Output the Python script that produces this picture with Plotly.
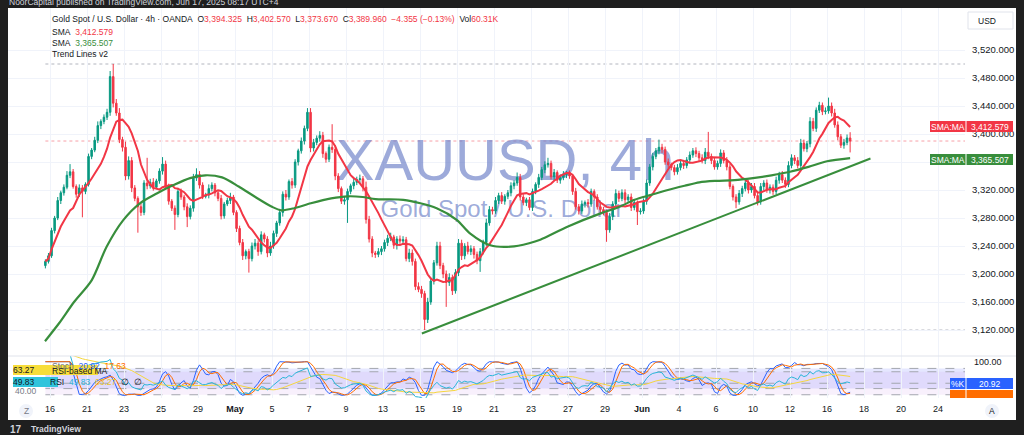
import numpy as np
import pandas as pd
import plotly.graph_objects as go

W, H = 1024, 435
FONT = "Liberation Sans, Arial, sans-serif"
TXT = "#131722"
UP = "#089981"
DOWN = "#f23645"
SMA_FAST_C = "#f23645"
SMA_SLOW_C = "#388e3c"
GRID = "#f0f3fa"
DARK = "#1f1f1f"

# ---------------- data ----------------
tick_day_index = [0, 2, 4, 6, 8, 10, 12, 14, 16, 18, 20, 22, 24, 26, 28, 30, 32, 34, 36, 38, 40, 42, 44, 46, 48]
tick_day_text = ["16", "21", "23", "25", "29", "<b>May</b>", "5", "7", "9", "13", "15", "19", "21", "23",
                 "27", "29", "<b>Jun</b>", "4", "6", "10", "12", "16", "18", "20", "24"]

price_ticks = [3120, 3160, 3200, 3240, 3280, 3320, 3360, 3400, 3440, 3480, 3520]
hidden_price_ticks = [3360]   # label fully covered by the SMA tag in the reference

bars_per_day = 6
first_bar_slot = -2          # first bar = Apr 15, 16:00 (slot counted from Apr 16 00:00)
first_open = 3212.0

closes = [
    3218, 3226,
    3262, 3280, 3305, 3316, 3324, 3341,
    3346, 3325, 3314, 3323, 3318, 3328,
    3368, 3377, 3391, 3412, 3418, 3424,
    3431, 3482, 3444, 3430, 3392, 3381,
    3340, 3362, 3323, 3308, 3296, 3288,
    3330, 3326, 3331, 3324, 3333, 3347,
    3357, 3325, 3304, 3294, 3285, 3318,
    3310, 3296, 3282, 3294, 3337, 3342,
    3327, 3311, 3313, 3322, 3327, 3316,
    3308, 3283, 3300, 3305, 3310, 3288,
    3265, 3245, 3226, 3232, 3222, 3240,
    3244, 3232, 3256, 3250, 3230, 3240,
    3258, 3273, 3288, 3314, 3310, 3332,
    3327, 3360, 3376, 3390, 3408, 3431,
    3380, 3388, 3394, 3398, 3372, 3364,
    3381, 3378, 3340, 3322, 3304, 3306,
    3318, 3326, 3331, 3335, 3336, 3324,
    3278, 3250, 3230, 3228, 3232, 3236,
    3245, 3251, 3253, 3241, 3250, 3247,
    3249, 3222, 3230, 3218, 3182, 3178,
    3172, 3135, 3160, 3190, 3216, 3240,
    3212, 3200, 3188, 3195, 3176, 3202,
    3244, 3226, 3240, 3232, 3236, 3228,
    3219, 3232, 3245, 3273, 3292, 3290,
    3305, 3312, 3304, 3311, 3316, 3326,
    3330, 3338, 3310, 3302, 3306, 3295,
    3318, 3328, 3338, 3349, 3356, 3358,
    3339, 3345, 3334, 3338, 3342, 3344,
    3340, 3318, 3296, 3290, 3300, 3302,
    3300, 3318, 3310, 3296, 3292, 3288,
    3263, 3282, 3300, 3315, 3308, 3316,
    3306, 3310, 3295, 3302, 3289, 3290,
    3304, 3330, 3353, 3368, 3376, 3381,
    3378, 3360, 3356, 3352, 3346, 3352,
    3358, 3355, 3363, 3370, 3376, 3372,
    3366, 3362, 3374, 3368, 3362, 3353,
    3358, 3373, 3362, 3353, 3325, 3310,
    3303, 3315, 3322, 3330, 3320, 3325,
    3312, 3303, 3325, 3330, 3320, 3324,
    3318, 3334, 3342, 3334, 3328, 3355,
    3366, 3362, 3355, 3387, 3379, 3386,
    3418, 3408, 3434, 3441, 3432, 3433,
    3440, 3430, 3413, 3396, 3384, 3388,
    3394.325, 3389.96,
]

wick_up = [
    3, 4,
    4, 3, 5, 3, 4, 6,
    11, 4, 3, 5, 4, 3,
    4, 3, 5, 6, 3, 4,
    5, 8, 18, 6, 7, 4,
    8, 6, 5, 4, 3, 5,
    4, 36, 5, 6, 3, 4,
    10, 5, 4, 3, 4, 5,
    4, 3, 5, 4, 6, 9,
    5, 4, 3, 6, 4, 3,
    4, 5, 3, 4, 6, 3,
    3, 4, 5, 3, 4, 5,
    6, 4, 5, 3, 4, 6,
    4, 3, 5, 4, 6, 3,
    5, 4, 3, 5, 4, 6,
    6, 5, 4, 6, 5, 3,
    4, 33, 6, 4, 3, 5,
    4, 3, 5, 4, 6, 4,
    8, 5, 4, 3, 5, 4,
    4, 5, 6, 3, 4, 5,
    5, 4, 6, 5, 4, 6,
    5, 4, 6, 5, 4, 6,
    6, 4, 5, 6, 4, 5,
    6, 5, 4, 6, 5, 4,
    4, 5, 4, 6, 5, 4,
    5, 4, 5, 3, 4, 5,
    4, 7, 5, 4, 3, 4,
    4, 3, 5, 4, 5, 8,
    4, 5, 3, 4, 5, 3,
    4, 3, 5, 4, 5, 3,
    5, 4, 3, 4, 5, 4,
    4, 5, 4, 6, 4, 5,
    5, 4, 5, 4, 3, 4,
    4, 5, 4, 5, 4, 11,
    5, 4, 5, 3, 4, 5,
    4, 5, 4, 5, 4, 5,
    4, 5, 6, 29, 4, 5,
    4, 5, 4, 5, 4, 3,
    4, 5, 4, 5, 4, 5,
    5, 4, 5, 4, 5, 4,
    4, 5, 4, 5, 4, 6,
    5, 4, 5, 6, 5, 4,
    6, 5, 4, 5, 4, 5,
    12, 5, 6, 5, 4, 5,
    5, 8.245,
]

wick_dn = [
    4, 3,
    3, 4, 3, 5, 4, 3,
    4, 3, 5, 4, 37, 4,
    3, 4, 3, 4, 5, 4,
    4, 5, 6, 4, 5, 6,
    6, 5, 6, 4, 37, 5,
    4, 5, 4, 5, 3, 4,
    5, 4, 5, 4, 22, 4,
    4, 5, 15, 4, 5, 4,
    5, 4, 3, 5, 4, 5,
    4, 5, 4, 3, 5, 4,
    5, 4, 6, 5, 20, 4,
    5, 6, 4, 5, 6, 4,
    4, 5, 4, 6, 5, 4,
    5, 4, 5, 4, 5, 4,
    6, 5, 4, 5, 6, 5,
    4, 5, 6, 5, 4, 5,
    33, 4, 5, 4, 5, 6,
    6, 5, 6, 5, 4, 5,
    4, 5, 4, 5, 6, 4,
    5, 4, 5, 6, 5, 4,
    6, 15, 5, 4, 5, 4,
    5, 6, 35, 5, 6, 4,
    5, 6, 5, 4, 5, 6,
    5, 16, 4, 5, 4, 5,
    4, 5, 4, 5, 4, 5,
    5, 4, 5, 4, 5, 4,
    5, 4, 5, 4, 5, 4,
    4, 5, 4, 5, 4, 5,
    4, 5, 4, 5, 4, 5,
    5, 4, 5, 4, 5, 4,
    17, 4, 5, 4, 5, 4,
    5, 4, 5, 4, 19, 4,
    4, 5, 4, 5, 4, 5,
    5, 4, 5, 4, 5, 4,
    4, 5, 4, 5, 4, 5,
    5, 4, 5, 4, 5, 4,
    4, 5, 4, 5, 4, 5,
    9, 4, 5, 4, 5, 4,
    4, 5, 4, 5, 4, 5,
    5, 4, 5, 4, 5, 4,
    4, 5, 4, 5, 4, 5,
    5, 4, 5, 4, 5, 4,
    4, 5, 4, 5, 4, 5,
    4, 16.29,
]

# slow SMA (trading-day index, price)
sma_slow_day = [-0.27, 0.5, 1.3, 2.25, 3.06, 3.96, 4.86, 5.77, 6.67, 7.57, 8.4, 9.3, 10.2, 11.1, 12.0, 12.5,
                13.2, 14.1, 15.2, 16.1, 16.9, 17.6, 19.1, 20.9, 22.0, 22.7, 23.8, 24.9, 25.9, 26.5, 28.0,
                29.8, 30.7, 31.6, 32.5, 33.4, 34.3, 35.1, 36.0, 37.0, 38.0, 39.0, 40.0, 41.0, 42.0, 43.25]
sma_slow_val = [3104, 3130, 3160, 3191, 3239, 3277, 3301, 3315, 3327, 3337, 3341, 3338, 3325, 3310, 3296, 3291,
                3294, 3301, 3308, 3311, 3310, 3307, 3306, 3294, 3277, 3258, 3241, 3239, 3244, 3249, 3268,
                3287, 3295, 3306, 3313, 3320, 3326, 3331, 3333, 3334, 3337, 3341, 3346, 3353, 3361, 3365.507]

trend_day = [20.1, 44.35]
trend_price = [3115, 3365]

fast_sma_len = 10
sma_fast_last = "3,412.579"
sma_slow_last = "3,365.507"
stoch_k_last = "20.92"
stoch_d_last = "17.63"
rsi_last = "49.83"
rsi_ma_last = "63.27"

# ---------------- pixel geometry ----------------
PANE_L, PANE_R = 8, 965
MAIN_T, MAIN_B = 8, 356
SUB_T, SUB_B = 356, 398
DAY0_PX, DAY_PX = 50.0, 18.5
P_REF, P_REF_PX, PX_PER_USD = 3400.0, 134.0, 0.7


def pxx(x):
    return x / W


def pyy(y):
    return 1 - y / H


def day_at(xp):
    return (xp - DAY0_PX) / DAY_PX


def price_at(yp):
    return P_REF - (yp - P_REF_PX) / PX_PER_USD


def sto_at(yp):
    return 100 * (395.3 - yp) / (395.3 - 361.7)


def rsi_at(yp):
    return 80 - (yp - 366) * 40 / (389 - 366)


X_RANGE = [day_at(PANE_L), day_at(PANE_R)]
Y_RANGE = [price_at(MAIN_B), price_at(MAIN_T)]
STO_RANGE = [sto_at(SUB_B), sto_at(SUB_T)]
RSI_RANGE = [rsi_at(SUB_B), rsi_at(SUB_T)]

# ---------------- derived series ----------------
n = len(closes)
assert len(wick_up) == n and len(wick_dn) == n
x_bar = [(first_bar_slot + i + 0.5) / bars_per_day for i in range(n)]
opens = [first_open] + closes[:-1]
highs = [max(o, c) + u for o, c, u in zip(opens, closes, wick_up)]
lows = [min(o, c) - d for o, c, d in zip(opens, closes, wick_dn)]

cs = pd.Series(closes, dtype=float)
sma_fast = cs.rolling(fast_sma_len, min_periods=1).mean()

allc = pd.Series([first_open] + closes, dtype=float)
delta = allc.diff().iloc[1:].reset_index(drop=True)
gain = delta.clip(lower=0)
loss = (-delta).clip(lower=0)
ag = gain.ewm(alpha=1 / 14, adjust=True).mean()
al = loss.ewm(alpha=1 / 14, adjust=True).mean()
rsi = (100 - 100 / (1 + ag / al.replace(0, np.nan))).fillna(100)
lo = rsi.rolling(14, min_periods=1).min()
hi = rsi.rolling(14, min_periods=1).max()
sto = ((rsi - lo) / (hi - lo).replace(0, np.nan) * 100).fillna(100)
k_line = sto.rolling(3, min_periods=1).mean()
d_line = k_line.rolling(3, min_periods=1).mean()
rsi_ma = rsi.rolling(14, min_periods=1).mean()

# ---------------- figure ----------------
fig = go.Figure()

WM = "rgba(110,130,200,0.68)"
# watermark in the base subplot (drawn below the price subplot that overlays it)
fig.add_trace(go.Scatter(x=[day_at(505)], y=[price_at(165)], mode="text", text=["XAUUSD, 4h"],
                         textfont=dict(size=58, color=WM, family=FONT),
                         xaxis="x", yaxis="y", hoverinfo="skip", showlegend=False))
fig.add_trace(go.Scatter(x=[day_at(502)], y=[price_at(211)], mode="text", text=["Gold Spot / U.S. Dollar"],
                         textfont=dict(size=24, color=WM, family=FONT),
                         xaxis="x", yaxis="y", hoverinfo="skip", showlegend=False))

fig.add_trace(go.Candlestick(
    x=x_bar, open=opens, high=highs, low=lows, close=closes,
    increasing=dict(line=dict(color=UP, width=1), fillcolor=UP),
    decreasing=dict(line=dict(color=DOWN, width=1), fillcolor=DOWN),
    whiskerwidth=0, xaxis="x3", yaxis="y4", hoverinfo="skip", showlegend=False))

fig.add_trace(go.Scatter(x=x_bar, y=sma_fast, mode="lines", line=dict(color=SMA_FAST_C, width=2),
                         xaxis="x3", yaxis="y4", hoverinfo="skip", showlegend=False))
fig.add_trace(go.Scatter(x=sma_slow_day, y=sma_slow_val, mode="lines",
                         line=dict(color=SMA_SLOW_C, width=2.2, shape="spline", smoothing=0.8),
                         xaxis="x3", yaxis="y4", hoverinfo="skip", showlegend=False))
fig.add_trace(go.Scatter(x=trend_day, y=trend_price, mode="lines", line=dict(color=SMA_SLOW_C, width=2),
                         xaxis="x3", yaxis="y4", hoverinfo="skip", showlegend=False))

# lower pane
fig.add_trace(go.Scatter(x=x_bar, y=rsi_ma, mode="lines", line=dict(color="#f5d63d", width=1),
                         xaxis="x2", yaxis="y3", hoverinfo="skip", showlegend=False))
fig.add_trace(go.Scatter(x=x_bar, y=rsi, mode="lines", line=dict(color="#29b6d8", width=1),
                         xaxis="x2", yaxis="y3", hoverinfo="skip", showlegend=False))
fig.add_trace(go.Scatter(x=x_bar, y=k_line, mode="lines", line=dict(color="#2962ff", width=1),
                         xaxis="x2", yaxis="y2", hoverinfo="skip", showlegend=False))
fig.add_trace(go.Scatter(x=x_bar, y=d_line, mode="lines", line=dict(color="#ff6d00", width=1),
                         xaxis="x2", yaxis="y2", hoverinfo="skip", showlegend=False))

shapes = []
# white chart card
shapes.append(dict(type="rect", xref="paper", yref="paper", x0=pxx(8), x1=pxx(1016), y0=pyy(420), y1=pyy(8),
                   fillcolor="white", line=dict(width=0), layer="below"))
# pane separator
shapes.append(dict(type="line", xref="paper", yref="paper", x0=pxx(8), x1=pxx(1016), y0=pyy(356), y1=pyy(356),
                   line=dict(color="#e0e3eb", width=1)))
# high / low / last price dotted lines
for yv, col in [(max(highs), "#b2b5be"), (min(lows), "#b2b5be"), (closes[-1], "#f7a1a8")]:
    shapes.append(dict(type="line", xref="x3", yref="y4", x0=x_bar[0], x1=X_RANGE[1], y0=yv, y1=yv,
                       line=dict(color=col, width=1, dash="dot"), layer="below"))
# oscillator bands
shapes.append(dict(type="rect", xref="x2", yref="y2", x0=x_bar[0], x1=X_RANGE[1], y0=20, y1=80,
                   fillcolor="rgba(100,110,255,0.17)", line=dict(width=0), layer="below"))
shapes.append(dict(type="rect", xref="x2", yref="y3", x0=x_bar[0], x1=X_RANGE[1], y0=30, y1=70,
                   fillcolor="rgba(190,120,230,0.11)", line=dict(width=0), layer="below"))
for yv, ax in [(80, "y2"), (20, "y2"), (70, "y3"), (50, "y3"), (30, "y3")]:
    shapes.append(dict(type="line", xref="x2", yref=ax, x0=x_bar[0], x1=X_RANGE[1], y0=yv, y1=yv,
                       line=dict(color="#a3a6af", width=1, dash="dash"), layer="below"))


def box(x0, x1, y0, y1, color, line=None):
    shapes.append(dict(type="rect", xref="paper", yref="paper", x0=pxx(x0), x1=pxx(x1), y0=pyy(y1), y1=pyy(y0),
                       fillcolor=color, line=line or dict(width=0), layer="above"))


box(930, 965.5, 121, 132, SMA_FAST_C)
box(966.5, 1013, 121, 132, SMA_FAST_C)
box(930, 965.5, 154, 165, SMA_SLOW_C)
box(966.5, 1013, 154, 165, SMA_SLOW_C)
box(950, 965.5, 378, 389, "#2962ff")
box(966.5, 1013, 378, 389, "#2962ff")
box(950, 965.5, 390, 398, "#ff6d00")
box(966.5, 1013, 390, 398, "#ff6d00")
box(968, 1013, 12, 29, "white", dict(color="#e0e3eb", width=1))
box(13, 98, 365, 375, "#f7dd3a")
box(13, 58, 377, 387, "#2fc4dc")
shapes.append(dict(type="circle", xref="paper", yref="paper", x0=pxx(985), x1=pxx(999), y0=pyy(418), y1=pyy(404),
                   fillcolor="#f0f3fa", line=dict(width=0)))
shapes.append(dict(type="circle", xref="paper", yref="paper", x0=pxx(19), x1=pxx(33), y0=pyy(418), y1=pyy(404),
                   fillcolor="#f0f3fa", line=dict(width=0)))

ann = []


def text(x, y, s, size=8.5, color=TXT, anchor="left", family=FONT):
    ann.append(dict(x=pxx(x), y=pyy(y), xref="paper", yref="paper", text=s, showarrow=False,
                    xanchor=anchor, yanchor="middle", font=dict(size=size, color=color, family=family)))


red = lambda s: f"<span style='color:{DOWN}'>{s}</span>"
sp = "\u00a0\u00a0"
text(7, 1.5, "NoorCapital published on TradingView.com, Jun 17, 2025 08:17 UTC+4", size=8.5, color="#d1d4dc")
text(50, 19, "Gold Spot / U.S. Dollar · 4h · OANDA" + sp + "O" + red("3,394.325") + sp + "H" + red("3,402.570")
     + sp + "L" + red("3,373.670") + sp + "C" + red("3,389.960") + sp + red("−4.355 (−0.13%)") + sp
     + "Vol" + red("60.31K"))
text(50, 31.7, "SMA\u00a0\u00a0" + red(sma_fast_last))
text(50, 42.7, "SMA\u00a0\u00a0" + f"<span style='color:{SMA_SLOW_C}'>{sma_slow_last}</span>")
text(50, 54.3, "Trend Lines v2")
text(976, 20.5, "USD", size=8.5)
text(947.7, 126.5, "SMA:MA", color="white", anchor="center")
text(989.7, 126.5, sma_fast_last, color="white", anchor="center")
text(947.7, 159.5, "SMA:MA", color="white", anchor="center")
text(989.7, 159.5, sma_slow_last, color="white", anchor="center")
text(957.7, 383.5, "%K", color="white", anchor="center")
text(989.7, 383.5, stoch_k_last, color="white", anchor="center")
text(972, 362, "100.00", size=9)
text(992, 411, "A", size=8.5, color="#131722", anchor="center")
text(26, 411, "Z", size=8.5, color="#787b86", anchor="center")
text(13, 390.5, "40.00", size=8.5, color="#787b86")
text(50, 365.5, "Stoch\u00a0\u00a0" + f"<span style='color:#2962ff'>{stoch_k_last}</span>\u00a0\u00a0"
     + f"<span style='color:#ff6d00'>{stoch_d_last}</span>", size=8.5, color="#6a6d78")
text(23.5, 370, rsi_ma_last, anchor="center")
text(50, 371, "RSI-based MA")
text(23.5, 382, rsi_last, anchor="center")
text(48, 382, "RSI\u00a0\u00a0" + f"<span style='color:#29b6d8'>{rsi_last}</span>\u00a0\u00a0"
     + f"<span style='color:#e8c52a'>{rsi_ma_last}</span>\u00a0\u00a0∅\u00a0\u00a0∅")
text(8, 429, "<b>17</b>", size=10, color="#d1d4dc")
text(29, 429, "<b>TradingView</b>", size=8.5, color="#d1d4dc")

tickfont = dict(size=9.5, color=TXT, family=FONT)
price_ticktext = ["" if v in hidden_price_ticks else f"{v:,.3f}" for v in price_ticks]
fig.update_layout(
    width=W, height=H, margin=dict(l=0, r=0, t=0, b=0),
    paper_bgcolor=DARK, plot_bgcolor="rgba(0,0,0,0)", showlegend=False,
    shapes=shapes, annotations=ann,
    xaxis=dict(domain=[pxx(PANE_L), pxx(PANE_R)], range=X_RANGE, anchor="y", tickvals=tick_day_index,
               showticklabels=False, ticks="", showgrid=True, gridcolor=GRID, zeroline=False,
               rangeslider=dict(visible=False), fixedrange=True),
    yaxis=dict(domain=[pyy(MAIN_B), pyy(MAIN_T)], range=Y_RANGE, anchor="x", side="right",
               tickvals=price_ticks, ticktext=price_ticktext, ticks="",
               showgrid=True, gridcolor=GRID, zeroline=False, tickfont=tickfont, ticklabelstandoff=6,
               fixedrange=True),
    xaxis3=dict(overlaying="x", range=X_RANGE, anchor="y4", visible=False,
                rangeslider=dict(visible=False), fixedrange=True),
    yaxis4=dict(overlaying="y", range=Y_RANGE, anchor="x3", visible=False, fixedrange=True),
    xaxis2=dict(domain=[pxx(PANE_L), pxx(PANE_R)], range=X_RANGE, anchor="y2", tickvals=tick_day_index,
                ticktext=tick_day_text, ticks="", showgrid=True, gridcolor=GRID, zeroline=False,
                tickfont=dict(size=9, color=TXT, family=FONT), ticklabelstandoff=4, fixedrange=True),
    yaxis2=dict(domain=[pyy(SUB_B), pyy(SUB_T)], range=STO_RANGE, anchor="x2", side="right",
                showticklabels=False, ticks="", showgrid=False, zeroline=False, fixedrange=True),
    yaxis3=dict(overlaying="y2", range=RSI_RANGE, anchor="x2", visible=False, fixedrange=True),
)

fig.write_html("out.html", config={"displayModeBar": False},
               post_script="document.body.style.margin='0';document.body.style.overflow='hidden';")
